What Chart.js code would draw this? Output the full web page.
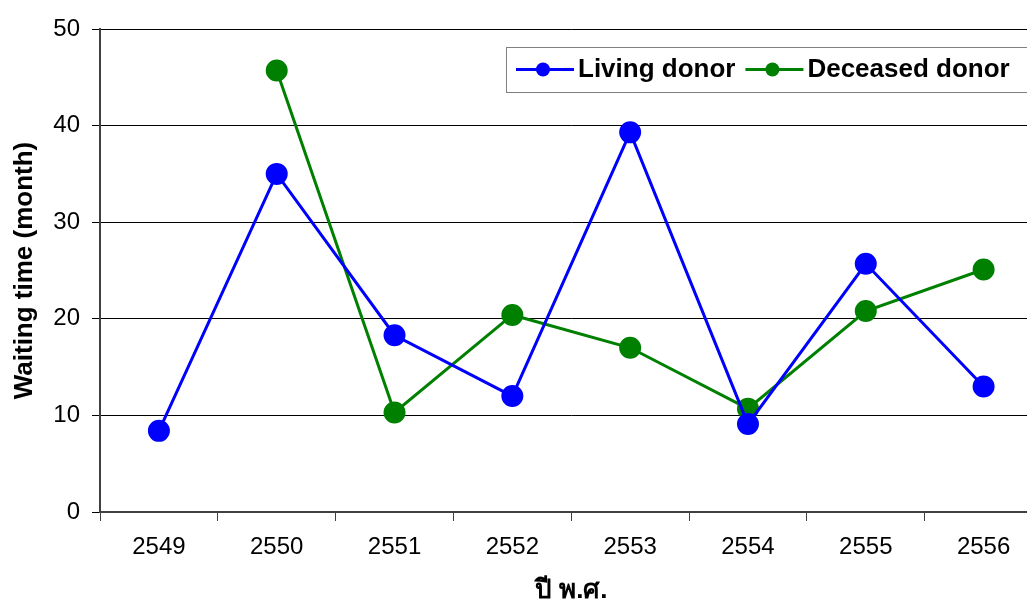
<!DOCTYPE html>
<html>
<head>
<meta charset="UTF-8">
<title>Waiting time</title>
<script src="https://cdn.jsdelivr.net/npm/chart.js"></script>
<style>
  html, body { margin: 0; padding: 0; background: #fff; overflow: hidden; }
  .wrap { width: 1055px; height: 606px; position: relative; }
</style>
</head>
<body>
<div class="wrap"><canvas id="chart"></canvas></div>
<script>
const years = ['2549', '2550', '2551', '2552', '2553', '2554', '2555', '2556'];
const livingDonor = [8.4, 35.0, 18.3, 12.0, 39.3, 9.1, 25.7, 13.0];
const deceasedDonor = [null, 45.7, 10.3, 20.4, 17.0, 10.7, 20.8, 25.1];
const yTicks = [0, 10, 20, 30, 40, 50];

const FONT = 'Arial, "Liberation Sans", sans-serif';

// legend drawn inside the plot, box with grey border like the original
const boxLegend = {
    id: 'boxLegend',
    afterDraw(chart) {
        const ctx = chart.ctx;
        const x0 = 506, y0 = 47, h = 45;
        ctx.save();
        ctx.fillStyle = '#fff';
        ctx.fillRect(x0, y0, chart.width - x0 + 10, h);
        ctx.strokeStyle = '#808080';
        ctx.lineWidth = 1;
        ctx.strokeRect(x0 + 0.5, y0 + 0.5, chart.width - x0 + 10, h);
        ctx.font = 'bold 26px ' + FONT;
        ctx.textBaseline = 'middle';
        let x = x0 + 10;
        const cy = y0 + h / 2;
        chart.data.datasets.forEach(ds => {
            ctx.strokeStyle = ds.borderColor;
            ctx.lineWidth = 3;
            ctx.beginPath();
            ctx.moveTo(x, cy);
            ctx.lineTo(x + 58, cy);
            ctx.stroke();
            ctx.fillStyle = ds.borderColor;
            ctx.beginPath();
            ctx.arc(x + 27, cy, 7, 0, Math.PI * 2);
            ctx.fill();
            ctx.fillStyle = '#000';
            ctx.fillText(ds.label, x + 62, cy);
            x += 62 + ctx.measureText(ds.label).width + 10;
        });
        ctx.restore();
    }
};

new Chart(document.getElementById('chart'), {
    type: 'line',
    data: {
        labels: years,
        datasets: [
            {
                label: 'Living donor',
                data: livingDonor,
                borderColor: '#0000ff',
                backgroundColor: '#0000ff',
                borderWidth: 3,
                pointRadius: 9.5,
                pointHoverRadius: 9.5,
                tension: 0
            },
            {
                label: 'Deceased donor',
                data: deceasedDonor,
                borderColor: '#008000',
                backgroundColor: '#008000',
                borderWidth: 3,
                pointRadius: 9.5,
                pointHoverRadius: 9.5,
                tension: 0
            }
        ]
    },
    options: {
        responsive: true,
        maintainAspectRatio: false,
        animation: false,
        layout: { padding: { top: 29, right: 4, left: 0, bottom: 0 } },
        plugins: {
            legend: { display: false },
            tooltip: { enabled: false }
        },
        scales: {
            x: {
                offset: true,
                grid: {
                    offset: true,
                    drawOnChartArea: false,
                    color: '#404040',
                    tickLength: 9
                },
                border: { color: '#404040', width: 2 },
                ticks: { color: '#000', font: { family: FONT, size: 24 }, padding: 12 },
                title: {
                    display: true,
                    text: 'ปี พ.ศ.',
                    color: '#000',
                    font: { family: FONT, size: 26, weight: 'bold' },
                    padding: { top: 14, bottom: 0 }
                },
                afterFit(scale) { scale.height = 94; }
            },
            y: {
                min: 0,
                max: 50,
                afterBuildTicks(scale) { scale.ticks = yTicks.map(v => ({ value: v })); },
                grid: { color: '#000', lineWidth: 1, tickLength: 8 },
                border: { color: '#404040', width: 2 },
                ticks: { color: '#000', font: { family: FONT, size: 24 }, padding: 12 },
                title: {
                    display: true,
                    text: 'Waiting time (month)',
                    color: '#000',
                    font: { family: FONT, size: 26, weight: 'bold' },
                    padding: { top: 9, bottom: 4 }
                },
                afterFit(scale) { scale.width = 100; }
            }
        }
    },
    plugins: [boxLegend]
});
</script>
</body>
</html>
